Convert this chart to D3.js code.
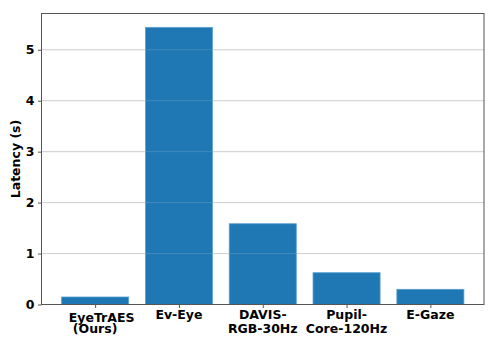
<head>
	<script src="https://d3js.org/d3.v7.min.js"></script>
	<style type="text/css">
		body { margin: 0; background: #fff; }
		text { font-family: "DejaVu Sans", sans-serif; font-weight: bold; fill: #000; }
	</style>
</head>
<body>
	<script type="text/javascript">
		const methods = ['EyeTrAES\n(Ours)', 'Ev-Eye', 'DAVIS-\nRGB-30Hz', 'Pupil-\nCore-120Hz', 'E-Gaze']
		const latency = [0.147, 5.44, 1.585, 0.624, 0.298]
		const yTicks = [0, 1, 2, 3, 4, 5]

		const W = 498, H = 349
		const margin = {top: 13.5, right: 14, bottom: 44.5, left: 41.5}
		const width = W - margin.left - margin.right,
			  height = H - margin.top - margin.bottom

		const svg = d3.select('body').append('svg')
				.attr('width', W)
				.attr('height', H)
			.append('g')
				.attr('transform', 'translate('+margin.left+','+margin.top+')')

		// matplotlib-like limits: bars of width 0.8 plus 5% margin
		const x = d3.scaleLinear()
			.domain([-0.64, methods.length - 1 + 0.64])
			.range([0, width])
		const y = d3.scaleLinear()
			.domain([0, d3.max(latency) * 1.05])
			.range([height, 0])

		function grid(cls, color, opacity) {
			svg.append('g').attr('class', cls)
				.selectAll('line')
				.data(yTicks)
				.enter().append('line')
				.attr('x1', 0).attr('x2', width)
				.attr('y1', d => y(d)).attr('y2', d => y(d))
				.attr('stroke', color)
				.attr('stroke-opacity', opacity)
				.attr('stroke-width', 1)
		}

		grid('grid', '#d0d0d0', 1)

		// bars
		svg.append('g').attr('class', 'bars')
			.selectAll('rect')
			.data(latency)
			.enter().append('rect')
			.attr('x', (d, i) => x(i - 0.4))
			.attr('y', d => y(d))
			.attr('width', x(0.8) - x(0))
			.attr('height', d => y(0) - y(d))
			.attr('fill', '#1f77b4')
			.attr('stroke', '#5b9fd0')
			.attr('stroke-width', 0.8)

		// faint grid showing through the bars
		grid('grid-over', '#d0d0d0', 0.2)

		// y axis
		const yAxis = svg.append('g')
			.call(d3.axisLeft(y).tickValues(yTicks).tickFormat(d3.format('d')).tickSize(3.5).tickPadding(3.5))
		yAxis.select('.domain').remove()
		yAxis.selectAll('line').attr('stroke', '#555')
		yAxis.selectAll('text').style('font-size', '12.5px').attr('font-family', null)

		// x axis
		const xAxis = svg.append('g')
			.attr('transform', 'translate(0,'+height+')')
			.call(d3.axisBottom(x).tickValues(d3.range(methods.length)).tickFormat('').tickSize(3.5))
		xAxis.select('.domain').remove()
		xAxis.selectAll('line').attr('stroke', '#555')

		// first label sits a bit lower/right in the original (matplotlib layout quirk)
		const firstLineShift = {0: [6.5, 3]}
		const xl = svg.append('g').attr('class', 'xlabels')
		methods.forEach((m, i) => {
			m.split('\n').forEach((line, j) => {
				const s = (j === 0 && firstLineShift[i]) || [0, 0]
				xl.append('text')
					.attr('x', x(i) + s[0])
					.attr('y', height + 14.5 + j * 13.7 + s[1])
					.attr('text-anchor', 'middle')
					.style('font-size', '12.5px')
					.text(line)
			})
		})

		// frame
		svg.append('rect')
			.attr('width', width).attr('height', height)
			.attr('fill', 'none')
			.attr('stroke', '#555')
			.attr('stroke-width', 1)

		svg.append('text')
			.attr('transform', 'translate(-22,'+(height/2)+') rotate(-90)')
			.attr('text-anchor', 'middle')
			.style('font-size', '12.5px')
			.text('Latency (s)')
	</script>
</body>
